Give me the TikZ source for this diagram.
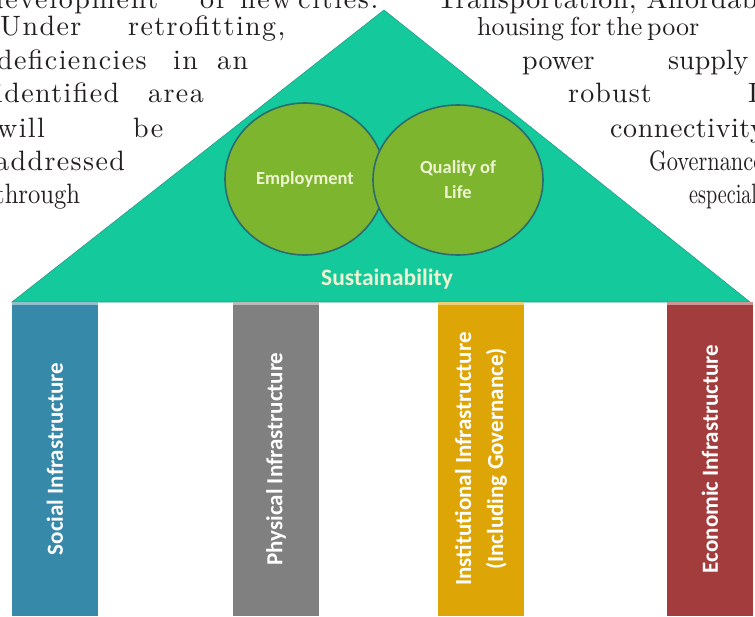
\documentclass[tikz,border=0pt]{standalone}
\usepackage{fontspec}
\setsansfont{Carlito}
\newfontfamily\pagefont{lmroman10-regular.otf}
\usepackage{graphicx}
\usepackage{tikz}
\usetikzlibrary{shapes.geometric}

\definecolor{roofgreen}{HTML}{14C99B}
\definecolor{roofedge}{HTML}{2A9C8C}
\definecolor{goalfill}{HTML}{7DB52F}
\definecolor{goalline}{HTML}{2C6B70}
\definecolor{goaltext}{HTML}{EEF3D2}
\definecolor{socialblue}{HTML}{3689A8}
\definecolor{physicalgray}{HTML}{808080}
\definecolor{instgold}{HTML}{DDA606}
\definecolor{econred}{HTML}{A33D3D}
\definecolor{pageink}{HTML}{231F20}

\newcommand{\wordat}[2]{\makebox[#1pt][l]{#2}}
\newcommand{\squeezed}[2]{\scalebox{#1}[1]{#2}}

\begin{document}
\begin{tikzpicture}[x=1pt,y=-1pt,
    pillar/.style={rotate=90, minimum width=314pt, minimum height=86pt, inner sep=0pt,
        text=white, align=center, font=\sffamily\bfseries\fontsize{23}{32}\selectfont},
    goal/.style={ellipse, draw=goalline, line width=1.6pt, fill=goalfill, inner sep=0pt,
        text=goaltext, align=center, font=\sffamily\bfseries\fontsize{18.5}{25}\selectfont},
    pageline/.style={anchor=base west, inner sep=0pt, text=pageink,
        font=\pagefont\fontsize{28}{33}\selectfont\addfontfeatures{LetterSpace=#1}},
    pageline/.default=5]
    \useasboundingbox (0,0) rectangle (755,616);
    \clip (0,0) rectangle (755,616);

    \node[pageline=6] (l1) at (-12,8) {\wordat{212}{development}\wordat{40}{of}\wordat{58}{new}cities.};
    \node[pageline] (l2) at (0,35) {\wordat{128}{Under}retrofitting,};
    \node[pageline] (l3) at (-3,69) {\wordat{176}{deficiencies}\wordat{44}{in}an};
    \node[pageline] (l4) at (-5,102) {\wordat{153}{identified}area};
    \node[pageline] (l5) at (-3,137) {\wordat{136}{will}be};
    \node[pageline] (l6) at (-5,170) {addressed};
    \node[pageline=0] (l7) at (-5,203) {\squeezed{0.88}{through}};

    \node[pageline=2] (r1) at (437,8) {Transportation, Affordable};
    \node[pageline=0, font=\pagefont\fontsize{26}{33}\selectfont] (r2) at (477,35) {\wordat{93}{housing}\wordat{36}{for}\wordat{41}{the}poor};
    \node[pageline=0] (r3) at (522,69) {\wordat{146}{power}supply};
    \node[pageline=4] (r4) at (568,102) {\wordat{180}{robust}I};
    \node[pageline=2] (r5) at (610,137) {connectivity};
    \node[pageline=0] (r6) at (649,170) {\squeezed{0.8}{Governance}};
    \node[pageline=0] (r7) at (689,203) {\squeezed{0.72}{especially}};

    \coordinate (apex) at (384,10);
    \coordinate (eaveL) at (12,302);
    \coordinate (eaveR) at (750,302);
    \fill[roofgreen, draw=roofedge, line width=0.6pt] (apex) -- (eaveR) -- (eaveL) -- cycle;

    \node[goal, minimum width=160pt, minimum height=152pt] (emp) at (305,179) {Employment};
    \node[goal, minimum width=170pt, minimum height=150pt] (qol) at (458,180) {Quality of\\Life};
    \node[text=goaltext, font=\sffamily\bfseries\fontsize{23.5}{26}\selectfont] (sus) at (387,279) {Sustainability};

    \node[pillar, fill=socialblue] (social) at (55,459) {Social Infrastructure};
    \node[pillar, fill=physicalgray] (physical) at (276,459) {Physical Infrastructure};
    \node[pillar, fill=instgold] (inst) at (481,459) {Institutional Infrastructure\\(Including Governance)};
    \node[pillar, fill=econred] (econ) at (710,459) {Economic Infrastructure};
    \foreach \p/\c in {social/socialblue, physical/physicalgray, inst/instgold, econ/econred}
        \fill[\c!55!white] (\p.south east) rectangle ([yshift=-3pt]\p.north east);
\end{tikzpicture}
\end{document}
